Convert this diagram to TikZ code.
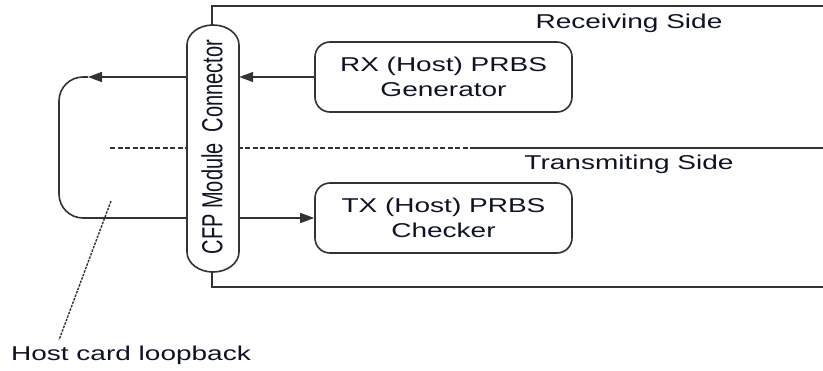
\documentclass[tikz,border=0pt]{standalone}
\usepackage{fontspec}
\setmainfont{Liberation Sans}[FakeStretch=1.4]
\newfontfamily\plainfont{Liberation Sans}
\usetikzlibrary{arrows.meta}
\definecolor{ln}{HTML}{333333}
\definecolor{tx}{HTML}{0E1224}
\begin{document}
\begin{tikzpicture}[x=1pt,y=-1pt,
  every node/.style={text=tx},
  lbl/.style={font=\fontsize{20}{25}\selectfont, inner sep=0pt},
  pbox/.style={draw=ln, line width=1.6pt, rounded corners=15pt, minimum width=257pt, minimum height=70pt, align=center, font=\fontsize{20}{25}\selectfont, inner sep=0pt},
  ln/.style={draw=ln, line width=1.6pt},
  arr/.style={ln, -{Triangle[length=14pt,width=10pt]}},
  lead/.style={draw=ln, line width=1.4pt, dash pattern=on 2.5pt off 1.2pt}]
\useasboundingbox (0,0) rectangle (823,370);
% frame
\draw[ln] (823,6) -- (212,6) -- (212,287) -- (823,287);
% side separator
\draw[ln, line width=1.3pt, dash pattern=on 5pt off 2.5pt] (110,148) -- (470,148);
\draw[ln] (470,148) -- (823,148);
% connector pill
\node[minimum width=52pt, minimum height=247pt, inner sep=0pt] (pill) at (213,148.5) {};
\draw[ln, fill=white] (187,45) .. controls (187,34) and (198.6,25) .. (213,25)
  .. controls (227.4,25) and (239,34) .. (239,45) -- (239,252)
  .. controls (239,263) and (227.4,272) .. (213,272)
  .. controls (198.6,272) and (187,263) .. (187,252) -- cycle;
\node[rotate=90, inner sep=0pt] (pilltext) at (212,147) {\scalebox{1}[1.45]{\plainfont\fontsize{20}{24}\selectfont CFP Module\ \ Connector}};
% boxes
\node[pbox] (rx) at (443.5,77) {RX (Host) PRBS\\Generator};
\node[pbox] (txb) at (443.5,218) {TX (Host) PRBS\\Checker};
% side labels
\node[lbl] (recv) at (629,23) {Receiving Side};
\node[lbl] (trans) at (629,164) {Transmiting Side};
% arrows
\draw[arr] (rx.west) -- (pill.east |- rx.west);
\coordinate (lt) at (88,77);
\draw[arr] (pill.west |- rx.west) -- (lt);
\draw[ln, rounded corners=24pt] (lt) -- (59,77) -- (59,218) -- (pill.west |- txb.west);
\draw[arr] (pill.east |- txb.west) -- (txb.west);
% loopback label
\node[lbl] (hl) at (131,355) {Host card loopback};
\coordinate (lp) at (111,201);
\coordinate (le) at (59,340);
\draw[lead] (lp) -- (le);
\end{tikzpicture}
\end{document}
